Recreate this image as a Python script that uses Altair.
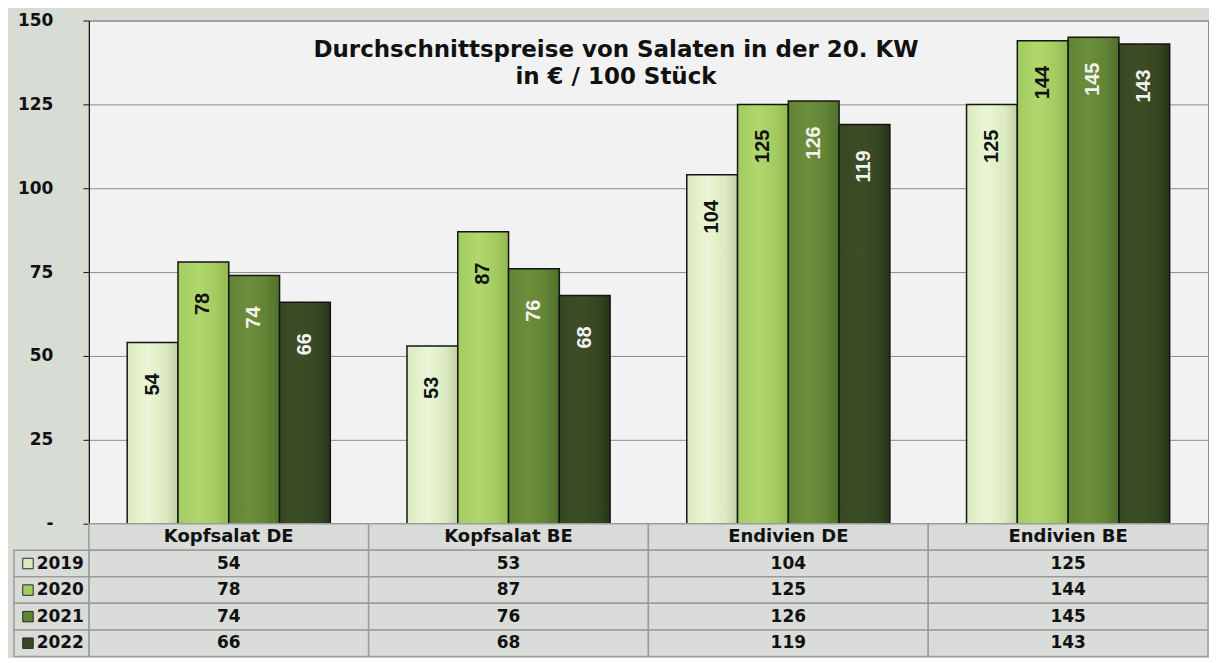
import altair as alt
import pandas as pd

categories = ["Kopfsalat DE", "Kopfsalat BE", "Endivien DE", "Endivien BE"]
years = ["2019", "2020", "2021", "2022"]
v2019 = [54, 53, 104, 125]
v2020 = [78, 87, 125, 144]
v2021 = [74, 76, 126, 145]
v2022 = [66, 68, 119, 143]
y_ticks = [0, 25, 50, 75, 100, 125, 150]
title_lines = ["Durchschnittspreise von Salaten in der 20. KW", "in € / 100 Stück"]

# colour styling per year: (mid, light, dark)
bar_shades = {
    "2019": ("#dcebc0", "#eaf6d6", "#c3d0a6"),
    "2020": ("#a3cb5f", "#b0d86c", "#93b852"),
    "2021": ("#628335", "#6c8e3b", "#50702b"),
    "2022": ("#364622", "#3d4e27", "#27351a"),
}
swatch_colors = [bar_shades[y][0] for y in years]

series = {"2019": v2019, "2020": v2020, "2021": v2021, "2022": v2022}
rows = []
for y in years:
    for c, v in zip(categories, series[y]):
        rows.append({"cat": c, "year": y, "value": v})
df = pd.DataFrame(rows)

FONT = "DejaVu Sans"
W, H = 1121, 504
TH = 133

x_enc = alt.X("cat:N", scale=alt.Scale(domain=categories, paddingInner=0.274, paddingOuter=0.137), axis=None)
xo_enc = alt.XOffset("year:N", scale=alt.Scale(domain=years, paddingInner=0, paddingOuter=0))
y_enc = alt.Y(
    "value:Q",
    scale=alt.Scale(domain=[0, 150], nice=False),
    axis=alt.Axis(
        values=y_ticks, title=None, grid=True, gridColor="#8c8c8c", gridWidth=1,
        domainColor="#111111", domainWidth=1.2, tickColor="#111111", tickSize=6,
        labelFont=FONT, labelFontSize=17, labelFontWeight="bold", labelColor="#111111",
        labelPadding=30, labelExpr="datum.value == 0 ? '-' : datum.label",
    ),
)

layers = []
for y in years:
    mid, light, dark = bar_shades[y]
    grad = alt.LinearGradient(
        gradient="linear", x1=0, x2=1, y1=0, y2=0,
        stops=[
            alt.GradientStop(offset=0, color=mid),
            alt.GradientStop(offset=0.4, color=light),
            alt.GradientStop(offset=0.75, color=mid),
            alt.GradientStop(offset=1, color=dark),
        ],
    )
    layers.append(
        alt.Chart(df).transform_filter(alt.datum.year == y)
        .mark_bar(color=grad, stroke="#151515", strokeWidth=1.5)
        .encode(x=x_enc, xOffset=xo_enc, y=y_enc)
    )

labels = alt.Chart(df).mark_text(
    angle=270, dx=-42, align="center", baseline="middle",
    font="Liberation Sans", fontSize=20, fontWeight="bold",
).encode(
    x=x_enc, xOffset=xo_enc, y=y_enc, text=alt.Text("value:Q"),
    color=alt.condition("datum.year == '2019' || datum.year == '2020'", alt.value("#111111"), alt.value("#f2f2f2")),
)

title = alt.Chart(pd.DataFrame({"t": [0]})).mark_text(
    text=title_lines, font=FONT, fontSize=23, fontWeight="bold", color="#111111",
    align="center", baseline="alphabetic", lineHeight=27,
).encode(x=alt.value(528), y=alt.value(37))

top = alt.layer(*layers, labels, title).properties(
    width=W, height=H,
    view=alt.ViewBackground(fill="#f1f2f1", stroke="#8c8c8c", strokeWidth=1),
)

# ---- data table ----
row_names = ["header"] + years
trows = []
for c in categories:
    trows.append({"cat": c, "row": "header", "txt": c, "size": 18})
for y in years:
    for c, v in zip(categories, series[y]):
        trows.append({"cat": c, "row": y, "txt": str(v), "size": 17})
tdf = pd.DataFrame(trows)

tx = alt.X("cat:N", scale=alt.Scale(domain=categories, paddingInner=0, paddingOuter=0), axis=None)
ty = alt.Y("row:N", scale=alt.Scale(domain=row_names, paddingInner=0, paddingOuter=0), axis=None)

cells = alt.Chart(tdf).mark_rect(fill="#dadcd9", stroke="#9c9c9c", strokeWidth=1.5).encode(x=tx, y=ty)
cell_text = alt.Chart(tdf).mark_text(
    font=FONT, fontWeight="bold", color="#111111", baseline="middle"
).encode(x=tx, y=ty, text="txt:N", size=alt.Size("size:Q", scale=None, legend=None))

ydf = pd.DataFrame({"row": years})
left_cells = alt.Chart(ydf).mark_rect(fill="#dadcd9", stroke="#9c9c9c", strokeWidth=1.5).encode(
    x=alt.value(-75), x2=alt.value(0), y=ty
)
swatches = alt.Chart(ydf).mark_square(size=110, stroke="#2a2a2a", strokeWidth=1, opacity=1).encode(
    x=alt.value(-61), y=ty,
    fill=alt.Fill("row:N", scale=alt.Scale(domain=years, range=swatch_colors), legend=None),
)
year_text = alt.Chart(ydf).mark_text(
    font=FONT, fontSize=17, fontWeight="bold", color="#111111", align="right", baseline="middle"
).encode(x=alt.value(-5), y=ty, text="row:N")

table = alt.layer(cells, cell_text, left_cells, swatches, year_text).properties(
    width=W, height=TH
)

chart = alt.vconcat(top, table, spacing=0, bounds="flush").properties(
    padding={"left": 5, "top": 2, "right": 0, "bottom": 0}
).configure(
    background="#d7dcd5"
).configure_view(stroke=None)

chart.save("out.html", embed_options={"renderer": "svg", "actions": False})
